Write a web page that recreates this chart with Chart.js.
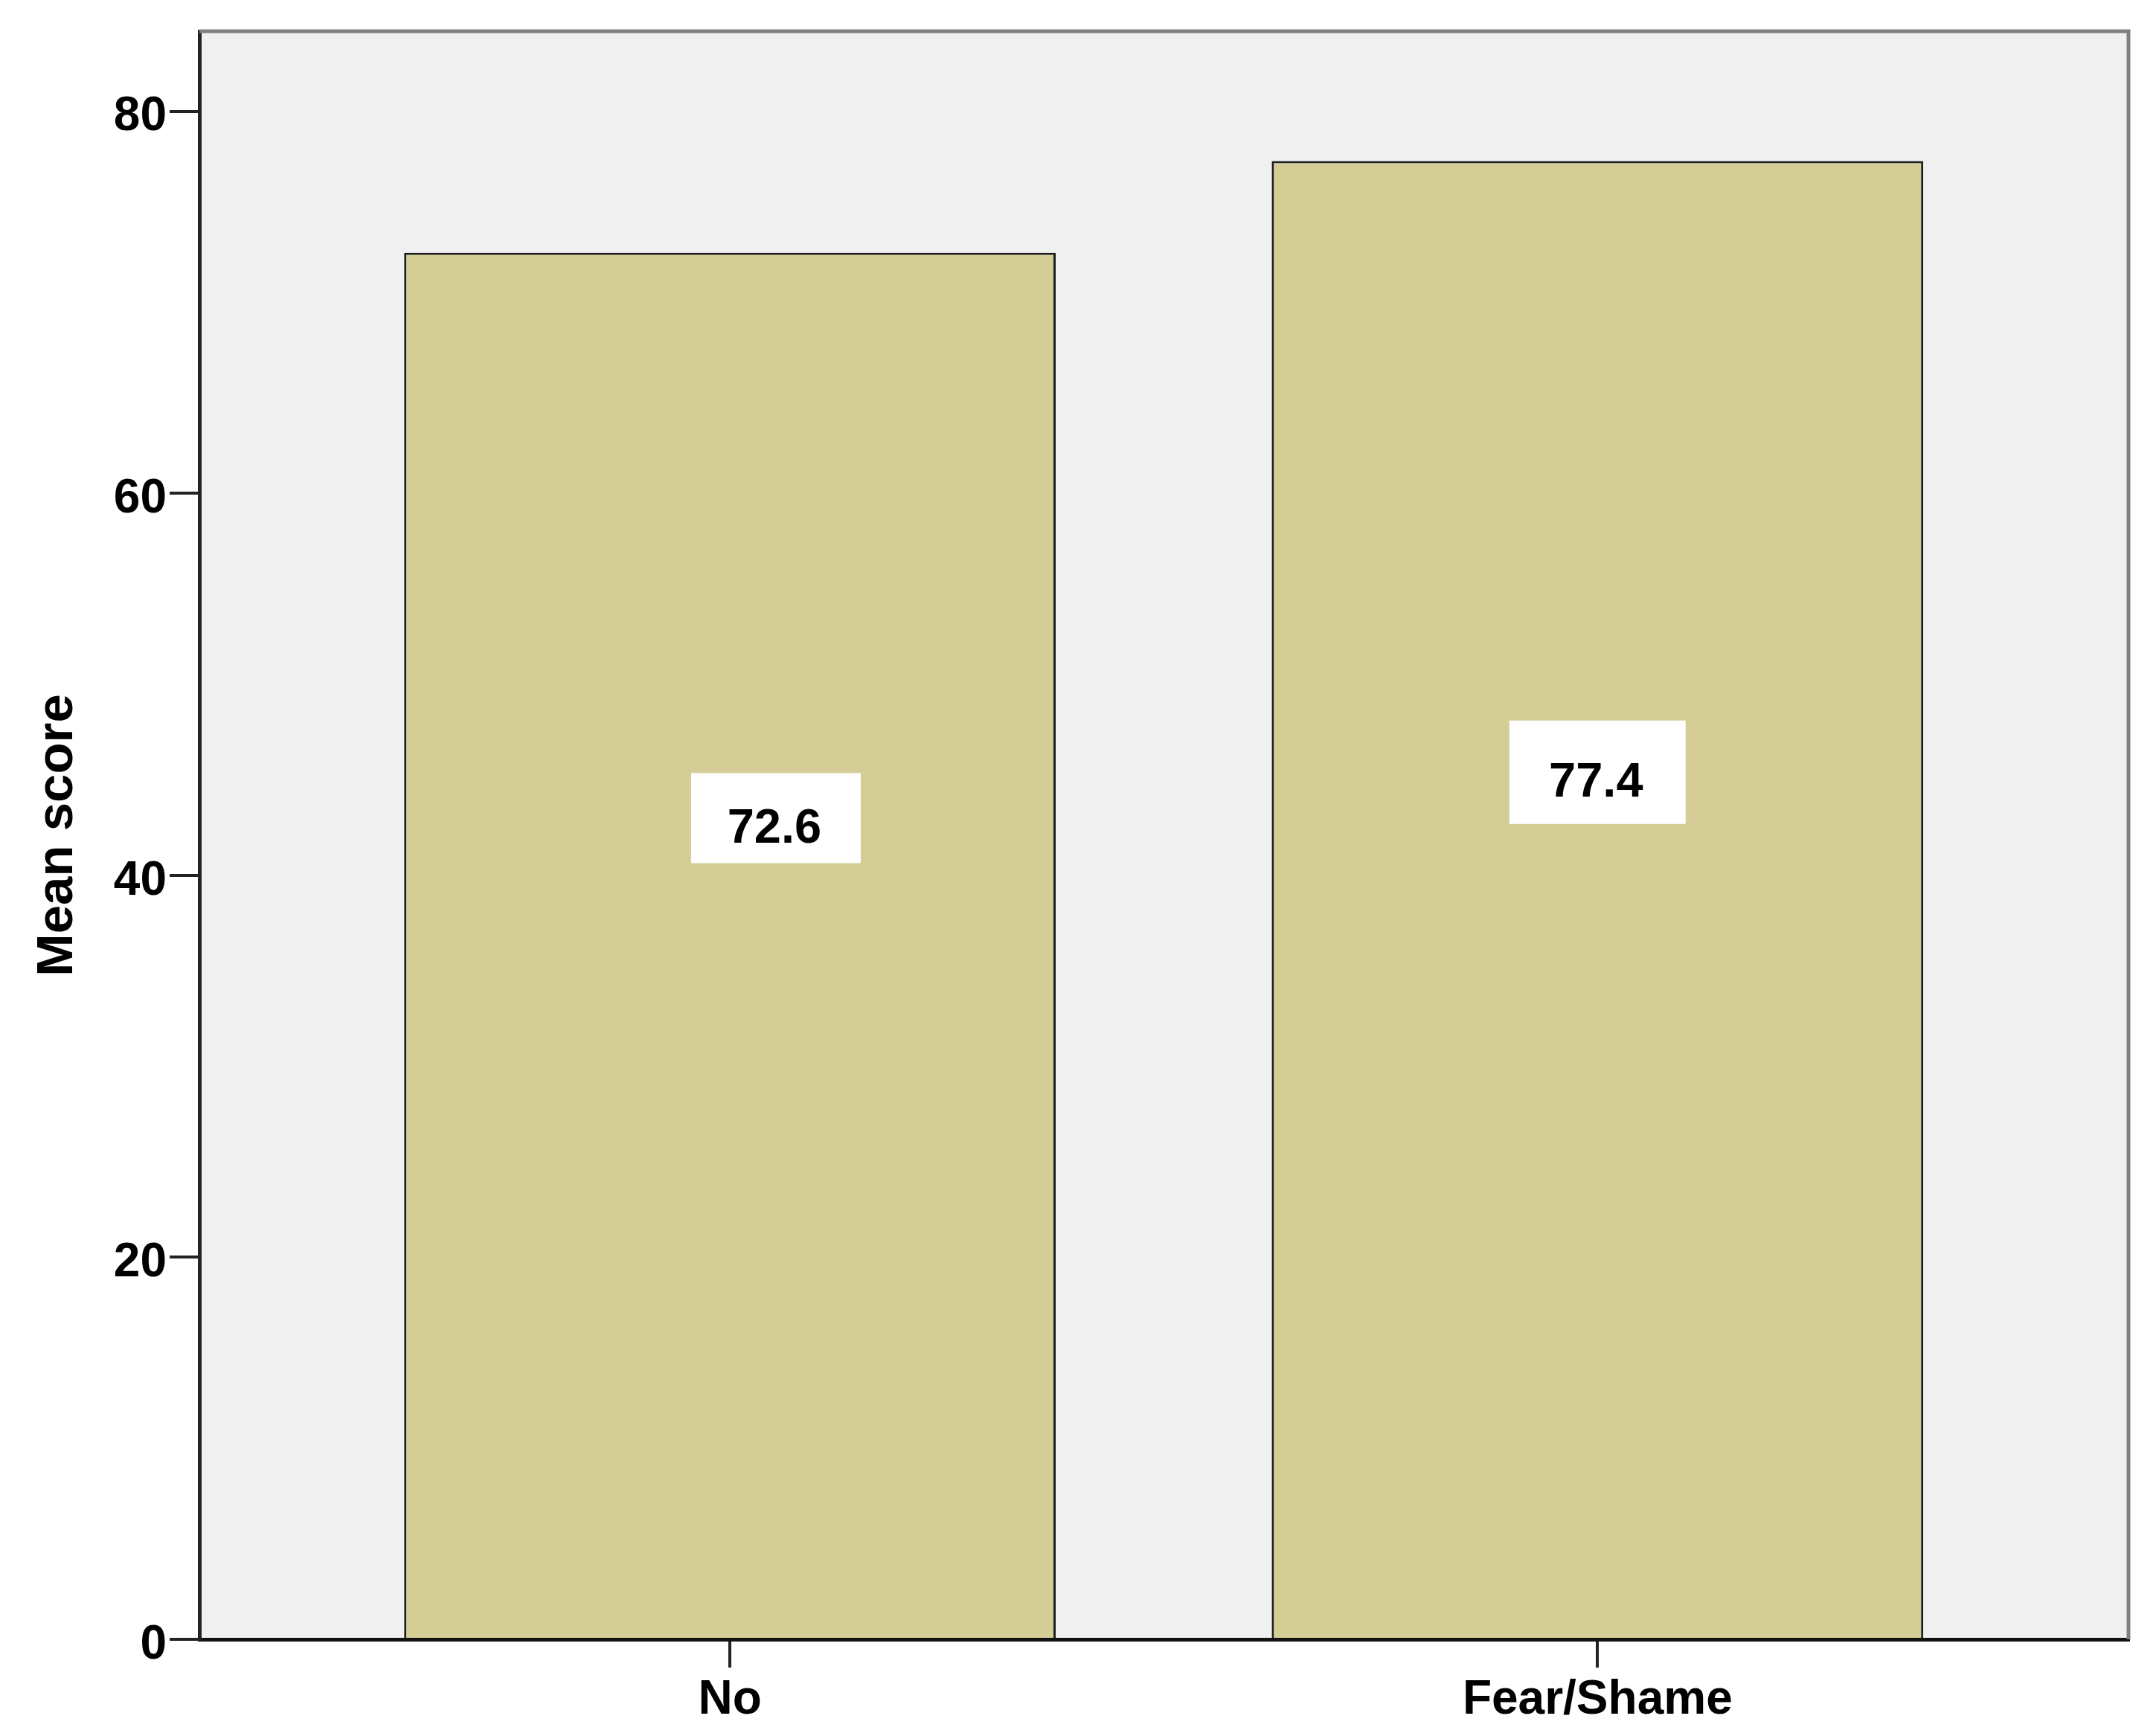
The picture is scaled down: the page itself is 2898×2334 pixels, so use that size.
<!DOCTYPE html>
<html><head><meta charset="utf-8">
<script src="https://cdn.jsdelivr.net/npm/chart.js@4.4.1/dist/chart.umd.min.js"></script>
<style>html,body{margin:0;padding:0;background:#fff}#wrap{width:2898px;height:2334px;position:relative}</style>
</head><body><div id="wrap"><canvas id="c"></canvas></div>
<script>
const categories = ['No', 'Fear/Shame'];
const meanScores = [72.6, 77.4];
const valueLabels = ['72.6', '77.4'];
const yTicks = [0, 20, 40, 60, 80];
const yAxisTitle = 'Mean score';

// label box placement (category offset, value-axis centre) and box size
const labelBoxDX = [0.053, 0];
const labelBoxY = [43.0, 45.4];
const labelBoxSize = [[228, 121], [237, 139]];

const FONT = '"Liberation Sans", Arial, sans-serif';

const bgPlugin = {
  id: 'plotBg',
  beforeDraw(chart) {
    const {ctx, chartArea: a} = chart;
    ctx.save();
    ctx.fillStyle = '#f0f0f0';
    ctx.fillRect(a.left, a.top, a.right - a.left, a.bottom - a.top);
    ctx.restore();
  },
  afterDraw(chart) {
    const {ctx, chartArea: a} = chart;
    ctx.save();
    ctx.strokeStyle = '#7f7f7f';
    ctx.lineWidth = 5;
    ctx.beginPath();
    ctx.moveTo(a.left, a.top);
    ctx.lineTo(a.right, a.top);
    ctx.lineTo(a.right, a.bottom);
    ctx.stroke();
    ctx.restore();
  }
};

const labelPlugin = {
  id: 'valueBoxes',
  afterDatasetsDraw(chart) {
    const {ctx} = chart;
    const xs = chart.scales.x, ys = chart.scales.y;
    const meta = chart.getDatasetMeta(0);
    ctx.save();
    meta.data.forEach((bar, i) => {
      const cx = xs.getPixelForValue(i + labelBoxDX[i]);
      const cy = ys.getPixelForValue(labelBoxY[i]);
      const [w, h] = labelBoxSize[i];
      ctx.fillStyle = '#ffffff';
      ctx.fillRect(cx - w / 2, cy - h / 2, w, h);
      ctx.fillStyle = '#000';
      ctx.font = 'bold 65px ' + FONT;
      ctx.textAlign = 'center';
      ctx.textBaseline = 'alphabetic';
      ctx.fillText(valueLabels[i], cx - 2, cy + 33);
    });
    ctx.restore();
  }
};

new Chart(document.getElementById('c'), {
  type: 'bar',
  data: {
    datasets: [{
      data: categories.map((c, i) => ({x: i, y: meanScores[i]})),
      backgroundColor: '#d4ce96',
      borderColor: '#1e1e1e',
      borderWidth: 3,
      categoryPercentage: 1,
      barPercentage: 0.751
    }]
  },
  options: {
    responsive: true,
    maintainAspectRatio: false,
    animation: false,
    devicePixelRatio: 1,
    layout: {padding: {top: 42, right: 37, left: 0, bottom: 0}},
    plugins: {legend: {display: false}, tooltip: {enabled: false}},
    scales: {
      x: {
        type: 'linear',
        min: -0.6115,
        max: 1.612,
        offset: false,
        afterBuildTicks: s => { s.ticks = categories.map((c, i) => ({value: i})); },
        afterFit: s => { s.height = 130; },
        ticks: {
          autoSkip: false,
          maxRotation: 0,
          padding: 6,
          color: '#000',
          font: {family: FONT, weight: 'bold', size: 64},
          callback: v => categories[v]
        },
        grid: {display: true, offset: false, drawOnChartArea: false, drawTicks: true, tickLength: 38, color: '#222', lineWidth: 4},
        border: {display: true, color: '#111', width: 5}
      },
      y: {
        min: 0,
        max: 84.2,
        afterBuildTicks: s => { s.ticks = yTicks.map(v => ({value: v})); },
        afterFit: s => { s.width = 268; },
        ticks: {
          autoSkip: false,
          padding: 4,
          color: '#000',
          font: {family: FONT, weight: 'bold', size: 64, lineHeight: 0.25},
          callback: v => ['', String(v)]
        },
        grid: {display: true, drawOnChartArea: false, drawTicks: true, tickLength: 40, color: '#222', lineWidth: 4},
        border: {display: true, color: '#222', width: 5},
        title: {
          display: true,
          text: yAxisTitle,
          color: '#000',
          font: {family: FONT, weight: 'bold', size: 69, lineHeight: 1},
          padding: {top: 43, bottom: 0}
        }
      }
    }
  },
  plugins: [bgPlugin, labelPlugin]
});
</script>
</body></html>
